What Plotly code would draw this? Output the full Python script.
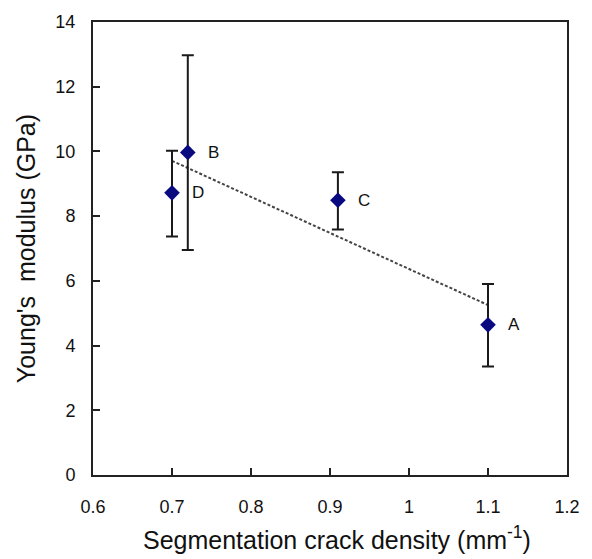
import numpy as np
import plotly.graph_objects as go

# Sample labels, crack density (mm^-1) and Young's modulus (GPa)
labels = ["D", "B", "C", "A"]
crack_density = [0.70, 0.72, 0.91, 1.10]
modulus = [8.72, 9.97, 8.49, 4.64]
err_plus = [1.30, 3.00, 0.87, 1.26]
err_minus = [1.35, 3.02, 0.90, 1.29]

x_ticks = [0.6, 0.7, 0.8, 0.9, 1.0, 1.1, 1.2]
x_tick_text = ["0.6", "0.7", "0.8", "0.9", "1", "1.1", "1.2"]
y_ticks = [0, 2, 4, 6, 8, 10, 12, 14]

FONT = "Liberation Sans, Arial, sans-serif"
AXIS = "#222222"
TEXT = "#111111"

# Linear least-squares trend over the measured points
slope, intercept = np.polyfit(crack_density, modulus, 1)
trend_x = np.array([min(crack_density), max(crack_density)])
trend_y = slope * trend_x + intercept

fig = go.Figure()

fig.add_trace(go.Scatter(
    x=trend_x, y=trend_y, mode="lines",
    line=dict(color="#444444", width=2, dash="3px,2px"),
    hoverinfo="skip", showlegend=False,
))

fig.add_trace(go.Scatter(
    x=crack_density, y=modulus, mode="markers",
    marker=dict(symbol="diamond", size=12, color="#0a0a80"),
    error_y=dict(type="data", symmetric=False, array=err_plus,
                 arrayminus=err_minus, color="#1a1a1a", thickness=2, width=6),
    showlegend=False,
))

for lab, xv, yv in zip(labels, crack_density, modulus):
    fig.add_annotation(
        x=xv, y=yv, text=lab, showarrow=False, xanchor="left",
        xshift=18, font=dict(family=FONT, size=17, color=TEXT),
    )

fig.update_xaxes(
    range=[0.6, 1.2], tickvals=x_ticks, ticktext=x_tick_text,
    ticks="inside", ticklen=7, tickwidth=2, tickcolor=AXIS,
    showline=True, linewidth=2, linecolor=AXIS, mirror=True,
    showgrid=False, zeroline=False,
    tickfont=dict(family=FONT, size=18, color=TEXT),
    ticklabelstandoff=14,
)
fig.update_yaxes(
    range=[0, 14], tickvals=y_ticks,
    ticks="inside", ticklen=7, tickwidth=2, tickcolor=AXIS,
    showline=True, linewidth=2, linecolor=AXIS, mirror=True,
    showgrid=False, zeroline=False,
    tickfont=dict(family=FONT, size=18, color=TEXT),
    ticklabelstandoff=12,
)

# Axis titles
fig.add_annotation(
    xref="paper", yref="paper", x=0.515, y=-0.138, yanchor="middle",
    text="Segmentation crack density (mm<sup>-1</sup>)", showarrow=False,
    font=dict(family=FONT, size=25, color=TEXT),
)
fig.add_annotation(
    xref="paper", yref="paper", x=-0.142, y=0.5, xanchor="center",
    yanchor="middle", textangle=-90,
    text="Young's  modulus (GPa)", showarrow=False,
    font=dict(family=FONT, size=25, color=TEXT),
)

fig.update_layout(
    width=592, height=559,
    margin=dict(l=93, r=13, t=19, b=84),
    plot_bgcolor="white", paper_bgcolor="white",
)

fig.write_html("out.html")
